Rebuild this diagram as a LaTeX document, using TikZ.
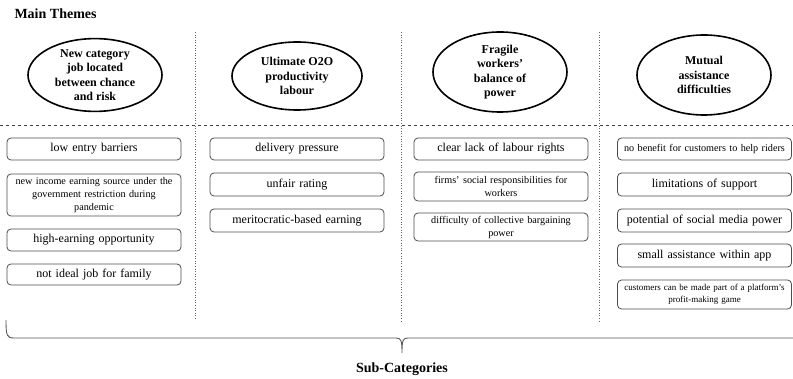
\documentclass[tikz,border=0pt]{standalone}
\usepackage{fontspec}
\setmainfont{Liberation Serif}
\usetikzlibrary{shapes.geometric}
\begin{document}
\begin{tikzpicture}[x=1pt,y=-1pt,
  theme/.style={draw=black,line width=1.6pt,ellipse,inner sep=0pt,align=center,
    font=\fontsize{12}{14.5}\selectfont\bfseries},
  subbox/.style={draw=black!70,line width=0.8pt,rounded corners=4pt,inner sep=1pt,
    align=center,text width=172pt},
  big/.style={subbox,font=\fontsize{12}{14}\selectfont},
  small/.style={subbox,font=\fontsize{10.2}{13}\selectfont},
  tiny/.style={subbox,font=\fontsize{9}{12}\selectfont},
  sep/.style={draw=black!60,line width=0.6pt,dotted},
  hsep/.style={draw=black!75,line width=0.7pt,dashed},
  heading/.style={font=\fontsize{14}{16}\selectfont\bfseries}
]
\useasboundingbox (0,0) rectangle (793,379);

\node[heading,anchor=west] (mt) at (11,14) {Main Themes};

% separators
\coordinate (v1t) at (195,32); \coordinate (v1b) at (195,320);
\coordinate (v2t) at (401,32); \coordinate (v2b) at (401,323);
\coordinate (v3t) at (599,32); \coordinate (v3b) at (599,322);
\draw[sep] (v1t) -- (v1b);
\draw[sep] (v2t) -- (v2b);
\draw[sep] (v3t) -- (v3b);
\coordinate (hl) at (0,125); \coordinate (hr) at (793,125);
\draw[hsep] (hl) -- (hr);

% themes
\node[theme,minimum width=134pt,minimum height=72pt] (t1) at (95,75) {New category\\job located\\between chance\\and risk};
\node[theme,minimum width=130pt,minimum height=68pt] (t2) at (297,76) {Ultimate O2O\\productivity\\labour};
\node[theme,minimum width=134pt,minimum height=80pt] (t3) at (500,72) {Fragile\\workers'\\balance of\\power};
\node[theme,minimum width=134pt,minimum height=80pt] (t4) at (704,75) {Mutual\\assistance\\difficulties};

% column 1
\node[big,minimum height=22pt] (a1) at (94,149) {low entry barriers};
\node[small,minimum height=42pt] (a2) at (94,195) {new income earning source under the\\government restriction during\\pandemic};
\node[big,minimum height=22pt] (a3) at (94,240) {high-earning opportunity};
\node[big,minimum height=21pt] (a4) at (94,274.5) {not ideal job for family};

% column 2
\node[big,minimum height=22pt] (b1) at (297,149) {delivery pressure};
\node[big,minimum height=23pt] (b2) at (297,184.5) {unfair rating};
\node[big,minimum height=23pt] (b3) at (297,220.5) {meritocratic-based earning};

% column 3
\node[big,minimum height=22pt] (c1) at (501,149) {clear lack of labour rights};
\node[small,minimum height=29pt] (c2) at (501,186.5) {firms' social responsibilities for\\workers};
\node[small,minimum height=28pt] (c3) at (501,227) {difficulty of collective bargaining\\power};

% column 4
\node[small,minimum height=22pt] (d1) at (704.5,149) {no benefit for customers to help riders};
\node[big,minimum height=23pt] (d2) at (704.5,184.5) {limitations of support};
\node[big,minimum height=23pt] (d3) at (704.5,220.5) {potential of social media power};
\node[big,minimum height=23pt] (d4) at (704.5,255.5) {small assistance within app};
\node[tiny,minimum height=29pt] (d5) at (704.5,294.5) {customers can be made part of a platform's\\profit-making game};

% brace
\coordinate (bl) at (6,320);
\coordinate (btip) at (402,353);
\coordinate (br) at (793,338);
\draw[black!65,line width=0.9pt]
  (bl) .. controls (6,336) and (7,338) .. (14,338) -- (396,338)
  .. controls (401,338) and (402,340) .. (btip)
  .. controls (402,340) and (403,338) .. (408,338) -- (br);

\node[heading] (sc) at (402,369) {Sub-Categories};
\end{tikzpicture}
\end{document}
